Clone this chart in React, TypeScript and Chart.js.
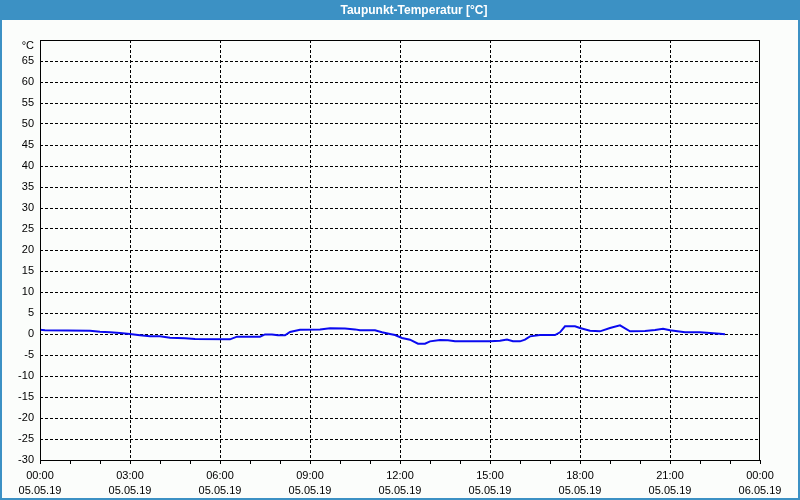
import React, { useEffect, useRef } from "react";
import { Chart, registerables } from "chart.js";

Chart.register(...registerables);

const titleText = "Taupunkt-Temperatur [°C]";
const unitLabel = "°C";

// minutes since 05.05.19 00:00
const minutes = [
  0, 10, 100, 120, 140, 160, 180, 200, 220, 240, 260, 290, 310, 380, 394, 440, 450, 464, 476, 490,
  500, 520, 560, 580, 610, 630, 640, 670, 684, 700, 710, 724, 740, 756, 770, 780, 800, 816, 830, 900,
  920, 934, 946, 960, 970, 980, 1000, 1030, 1040, 1050, 1070, 1080, 1100, 1120, 1140, 1160, 1180, 1210,
  1230, 1246, 1260, 1290, 1320, 1340, 1360, 1370,
];
const dewPoint = [
  1.03, 0.9, 0.8, 0.56, 0.4, 0.24, 0.0, -0.3, -0.56, -0.56, -0.9, -1.03, -1.2, -1.27, -0.63, -0.63, -0.1, -0.1, -0.32, -0.3,
  0.48, 1.0, 1.1, 1.35, 1.3, 1.1, 0.87, 0.87, 0.4, 0.0, -0.24, -0.95, -1.35, -2.3, -2.3, -1.75, -1.43, -1.5, -1.75, -1.75,
  -1.6, -1.3, -1.7, -1.75, -1.35, -0.56, -0.24, -0.24, 0.4, 1.83, 1.83, 1.43, 0.8, 0.63, 1.43, 2.06, 0.63, 0.71,
  0.95, 1.27, 0.87, 0.4, 0.4, 0.24, 0.08, -0.08,
];

const timeLabels = ["00:00", "03:00", "06:00", "09:00", "12:00", "15:00", "18:00", "21:00", "00:00"];
const dateLabels = ["05.05.19", "05.05.19", "05.05.19", "05.05.19", "05.05.19", "05.05.19", "05.05.19", "05.05.19", "06.05.19"];

const yMin = -30;
const yMax = 70;
const yStep = 5;

const frame = {
  id: "frame",
  beforeDraw(chart: any) {
    const { ctx, width, height } = chart;
    ctx.save();
    ctx.fillStyle = "#fbfdfb";
    ctx.fillRect(0, 0, width, height);
    ctx.fillStyle = "#3c91c4";
    ctx.fillRect(0, 0, width, 20);
    ctx.strokeStyle = "#3c91c4";
    ctx.lineWidth = 2;
    ctx.strokeRect(1, 1, width - 2, height - 2);
    ctx.fillStyle = "#ffffff";
    ctx.font = "bold 12px 'Liberation Sans', Arial, sans-serif";
    ctx.textAlign = "center";
    ctx.textBaseline = "middle";
    ctx.fillText(titleText, 414, 11);
    ctx.restore();
  },
  afterDatasetsDraw(chart: any) {
    const { ctx, chartArea } = chart;
    ctx.save();
    ctx.strokeStyle = "#000";
    ctx.lineWidth = 1;
    ctx.setLineDash([]);
    ctx.strokeRect(chartArea.left + 0.5, chartArea.top + 0.5, chartArea.right - chartArea.left - 1, chartArea.bottom - chartArea.top);
    ctx.fillStyle = "#000";
    ctx.font = "11px 'Liberation Sans', Arial, sans-serif";
    ctx.textAlign = "right";
    ctx.textBaseline = "middle";
    ctx.fillText(unitLabel, chartArea.left - 6, chartArea.top + 6);
    ctx.restore();
  },
};

export default function App() {
  const ref = useRef<HTMLCanvasElement>(null);
  useEffect(() => {
    document.body.style.margin = "0";
    const chart = new Chart(ref.current!, {
      type: "line",
      data: {
        datasets: [
          {
            data: minutes.map((m, i) => ({ x: m, y: dewPoint[i] })),
            borderColor: "#0a0af0",
            borderWidth: 2,
            pointRadius: 0,
            tension: 0,
            fill: false,
          },
        ],
      },
      options: {
        animation: false,
        responsive: false,
        devicePixelRatio: 1,
        layout: { padding: { top: 40, right: 40, left: 0, bottom: 0 } },
        plugins: { legend: { display: false }, tooltip: { enabled: false }, title: { display: false } },
        scales: {
          x: {
            type: "linear",
            min: 0,
            max: 1440,
            afterFit: (s: any) => {
              s.height = 40;
            },
            afterBuildTicks: (s: any) => {
              const t = [];
              for (let v = 0; v <= 1440; v += 60) t.push({ value: v });
              s.ticks = t;
            },
            ticks: {
              autoSkip: false,
              maxRotation: 0,
              padding: 4,
              color: "#000",
              font: { family: "'Liberation Sans', Arial, sans-serif", size: 11, lineHeight: 1.38 },
              callback: (v: any) => {
                if (v % 180 !== 0) return "";
                const i = v / 180;
                return [timeLabels[i], dateLabels[i]];
              },
            },
            grid: {
              color: (c: any) =>
                c.tick && c.tick.value % 180 === 0 && c.tick.value > 0 && c.tick.value < 1440 ? "#000" : "rgba(0,0,0,0)",
              lineWidth: 1,
              tickColor: "#000",
              tickLength: 4,
              tickWidth: 1,
            },
            border: { display: false, dash: [3, 2] },
          },
          y: {
            min: yMin,
            max: yMax,
            afterFit: (s: any) => {
              s.width = 40;
            },
            ticks: {
              stepSize: yStep,
              padding: 6,
              color: "#000",
              font: { family: "'Liberation Sans', Arial, sans-serif", size: 11 },
              callback: (v: any) => (v >= yMax ? "" : String(v)),
            },
            grid: {
              color: (c: any) =>
                c.tick && c.tick.value > yMin && c.tick.value < yMax ? "#000" : "rgba(0,0,0,0)",
              lineWidth: 1,
              drawTicks: false,
            },
            border: { display: false, dash: [3, 2] },
          },
        },
      },
      plugins: [frame],
    });
    return () => chart.destroy();
  }, []);
  return <canvas ref={ref} width={800} height={500} style={{ display: "block" }} />;
}
